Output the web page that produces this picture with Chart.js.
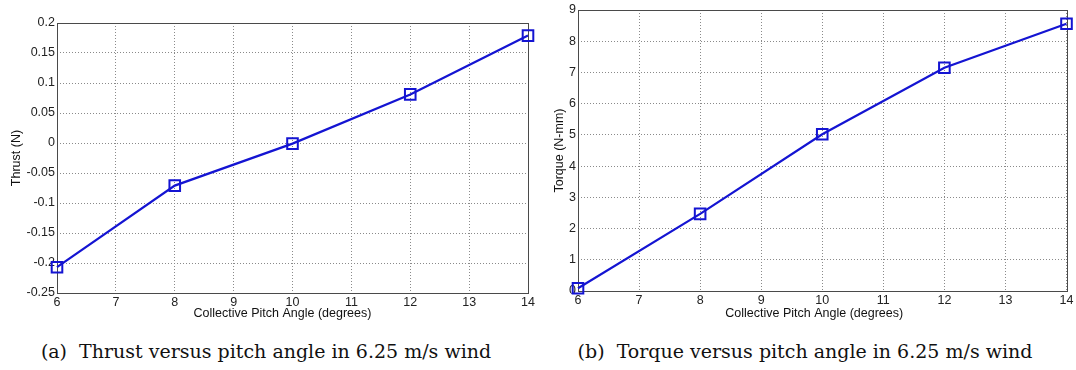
<!DOCTYPE html>
<html>
<head>
<meta charset="utf-8">
<script src="https://cdn.jsdelivr.net/npm/chart.js@4/dist/chart.umd.min.js"></script>
<style>
  html, body { margin: 0; padding: 0; background: #fff; }
  body { width: 1076px; height: 370px; position: relative; overflow: hidden; }
  canvas { position: absolute; top: 0; }
  #c1 { left: 0; }
  #c2 { left: 540px; }
  .cap { position: absolute; top: 340px; font-family: "DejaVu Serif", serif; font-size: 19px; line-height: 22px; color: #111; white-space: nowrap; transform: translateX(-50%); }
</style>
</head>
<body>
<canvas id="c1" width="540" height="325"></canvas>
<canvas id="c2" width="536" height="325"></canvas>
<div class="cap" style="left:266px">(a)&nbsp; Thrust versus pitch angle in 6.25 m/s wind</div>
<div class="cap" style="left:805px">(b)&nbsp; Torque versus pitch angle in 6.25 m/s wind</div>
<script>
// ---- data ----
const pitchAngles = [6, 8, 10, 12, 14];
const thrustValues = [-0.207, -0.071, -0.001, 0.081, 0.179];
const torqueValues = [0.09, 2.47, 5.02, 7.15, 8.56];
const pitchTickLabels = ['6', '7', '8', '9', '10', '11', '12', '13', '14'];
const thrustTickLabels = ['-0.25', '-0.2', '-0.15', '-0.1', '-0.05', '0', '0.05', '0.1', '0.15', '0.2'];
const torqueTickLabels = ['0', '1', '2', '3', '4', '5', '6', '7', '8', '9'];
const xTitle = 'Collective Pitch Angle (degrees)';

const FONT = "'Liberation Sans', Arial, sans-serif";
const LINE = '#1414d2';

const boxPlugin = {
  id: 'boxAndTitle',
  beforeDatasetsDraw(chart) {
    const { ctx, chartArea: a } = chart;
    ctx.save();
    ctx.strokeStyle = '#4a4a4a';
    ctx.lineWidth = 1;
    ctx.strokeRect(Math.round(a.left) + 0.5, Math.round(a.top) + 0.5, Math.round(a.right - a.left), Math.round(a.bottom - a.top));
    ctx.restore();
  },
  afterDraw(chart, args, opts) {
    const { ctx, chartArea: a } = chart;
    ctx.save();
    ctx.fillStyle = '#111';
    ctx.font = '12.5px ' + FONT;
    ctx.textAlign = 'center';
    ctx.textBaseline = 'middle';
    ctx.fillText(opts.text, (a.left + a.right) / 2 + opts.dx, a.bottom + opts.dy);
    ctx.restore();
  }
};

function makeChart(id, values, yMin, yMax, yStep, yLabels, yTitle, pad, yWidth, xHeight, titlePad, dx, dy) {
  return new Chart(document.getElementById(id), {
    type: 'line',
    data: {
      datasets: [{
        data: pitchAngles.map((x, i) => ({ x: x, y: values[i] })),
        borderColor: LINE,
        borderWidth: 2.2,
        backgroundColor: 'rgba(0,0,0,0)',
        pointStyle: 'rect',
        pointRadius: 7.5,
        pointBorderWidth: 2,
        pointBorderColor: LINE,
        pointBackgroundColor: 'rgba(0,0,0,0)',
        tension: 0,
        clip: false
      }]
    },
    options: {
      responsive: false,
      animation: false,
      devicePixelRatio: 1,
      layout: { padding: pad },
      plugins: {
        legend: { display: false },
        tooltip: { enabled: false },
        boxAndTitle: { text: xTitle, dx: dx, dy: dy }
      },
      scales: {
        x: {
          type: 'linear',
          min: 6, max: 14,
          afterFit: s => { s.height = xHeight; },
          ticks: {
            stepSize: 1, autoSkip: false, maxRotation: 0, padding: 2,
            color: '#222', font: { family: FONT, size: 12.5 },
            callback: (v) => pitchTickLabels[Math.round(v - 6)]
          },
          grid: { color: '#8a8a8a', lineWidth: 1, drawTicks: false },
          border: { display: false, dash: [1, 2] }
        },
        y: {
          type: 'linear',
          min: yMin, max: yMax,
          afterFit: s => { s.width = yWidth; },
          ticks: {
            stepSize: yStep, autoSkip: false, padding: 2,
            color: '#222', font: { family: FONT, size: 12.5 },
            callback: (v) => yLabels[Math.round((v - yMin) / yStep)]
          },
          grid: { color: '#8a8a8a', lineWidth: 1, drawTicks: false },
          border: { display: false, dash: [1, 2] },
          title: {
            display: true, text: yTitle, color: '#111',
            font: { family: FONT, size: 12.5 },
            padding: { top: titlePad, bottom: 0 }
          }
        }
      }
    },
    plugins: [boxPlugin]
  });
}

makeChart('c1', thrustValues, -0.25, 0.2, 0.05, thrustTickLabels, 'Thrust (N)',
  { left: 0, top: 23, right: 12, bottom: 0 }, 57, 32, 9.5, -10, 21);
makeChart('c2', torqueValues, 0, 9, 1, torqueTickLabels, 'Torque (N-mm)',
  { left: 0, top: 10, right: 9, bottom: 0 }, 38, 34, 12, -8, 23);
</script>
</body>
</html>
